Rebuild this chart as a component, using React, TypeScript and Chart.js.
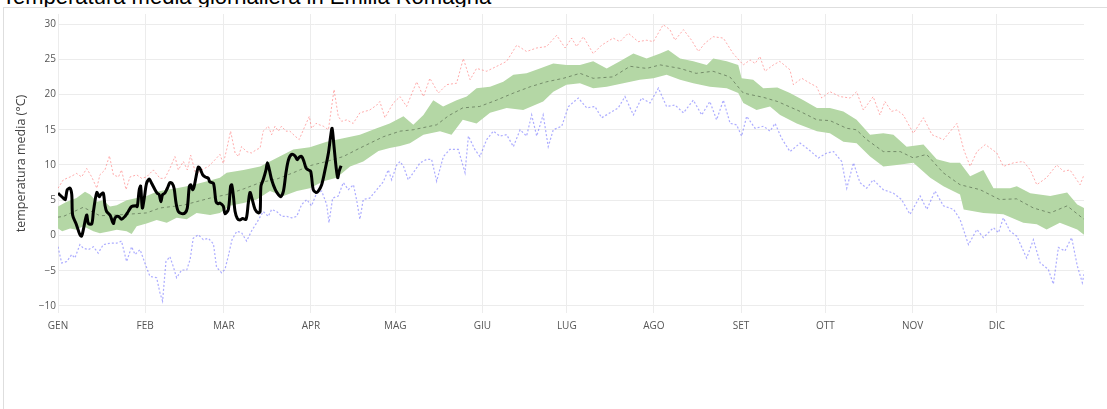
import React, { useEffect, useRef } from "react";
import { Chart, registerables } from "chart.js";

Chart.register(...registerables);

// x = day of year (0 = 1 gennaio), y = °C
const monthStarts = [0, 31, 59, 90, 120, 151, 181, 212, 243, 273, 304, 334];
const monthLabels = ["GEN", "FEB", "MAR", "APR", "MAG", "GIU", "LUG", "AGO", "SET", "OTT", "NOV", "DIC"];
const yTicks = [-10, -5, 0, 5, 10, 15, 20, 25, 30];

const currentYear: [number, number][] = [
  [0, 6.0], [1.9, 5.3], [2.6, 5.1], [3.3, 6.5], [4.3, 6.7], [4.9, 5.8], [5.2, 2.9], [6.4, 1.7], [7.8, 0.1], [8.4, -0.1],
  [9, 0.8], [10.2, 2.9], [10.8, 1.7], [12, 1.65], [12.6, 3.4], [13.8, 6.1], [14.7, 5.5], [15.2, 5.8], [16.1, 6.0], [16.7, 4.3],
  [17.3, 3.4], [18.5, 2.9], [19.7, 1.7], [20.3, 2.5], [21.5, 2.7], [22.6, 2.3], [23.8, 2.7], [25, 3.4], [26.2, 4.1], [27.7, 4.2],
  [28.2, 4.1], [28.9, 6.5], [29.4, 7.0], [30, 3.9], [30.7, 5.3], [31.5, 7.4], [32.5, 8.0], [33.3, 7.4], [34.5, 6.5], [35.3, 6.0],
  [36, 5.8], [36.6, 4.8], [37.2, 5.8], [38, 6.0], [38.9, 6.7], [39.8, 7.5], [40.6, 7.4], [41.3, 6.7], [42, 4.6], [42.8, 3.4],
  [44, 3.1], [45.2, 3.2], [46, 3.9], [46.7, 6.9], [47.2, 7.2], [47.9, 6.5], [48.4, 6.9], [49.1, 8.3], [49.9, 9.7], [50.5, 9.5],
  [51.5, 8.6], [52.4, 8.3], [53.5, 8.1], [54, 7.6], [55.3, 7.4], [56.2, 4.8], [57, 4.5], [57.6, 4.6], [58.8, 4.15], [59.4, 3.1],
  [60.6, 3.7], [61.4, 7.0], [61.8, 7.2], [62.4, 5.6], [63, 3.4], [63.8, 2.4], [64.7, 2.2], [65.7, 2.4], [66.9, 2.3], [67.7, 4.6],
  [68.3, 6.1], [69.1, 5.1], [70.1, 3.7], [71.3, 3.2], [71.9, 3.4], [72.2, 7.0], [73, 7.9], [74, 9.3], [74.5, 10.3], [75.2, 9.3],
  [76, 7.9], [77.3, 6.5], [78.4, 5.8], [79.2, 5.5], [80.2, 6.3], [81.1, 8.9], [82, 10.75], [83.1, 11.5], [84.3, 11.3], [85.1, 10.75],
  [85.8, 11.1], [86.7, 11.2], [87.5, 10.5], [88.2, 9.6], [89, 9.3], [89.9, 9.1], [90.8, 6.5], [91.8, 6.1], [92.6, 6.3], [93.8, 7.2],
  [95, 9.3], [96.2, 11.7], [97, 14.1], [97.5, 15.2], [98.2, 12.6], [98.9, 9.8], [99.5, 8.2], [100, 9.1], [100.7, 9.9],
];

const meanSeries: [number, number][] = [
  [0, 2.6], [1.9, 2.7], [9, 4.0], [14.9, 2.8], [20.9, 2.9], [31.5, 3.2], [36.3, 3.9], [44.6, 4.3], [54.1, 5.3], [60, 5.8],
  [66, 6.6], [71.9, 7.5], [77.8, 8.0], [83.7, 8.9], [89.6, 9.9], [95.6, 10.5], [101.5, 11.2], [107.4, 12.4], [115.7, 14.0],
  [121.7, 14.8], [126.4, 15.0], [134.7, 15.7], [139, 17.0], [144, 18.1], [150, 18.3], [156, 19.2], [162, 20.2], [168, 21.1],
  [173.8, 21.8], [179.8, 22.3], [185.7, 23.0], [190.4, 22.3], [197.5, 22.5], [203.5, 24.0], [209.4, 23.7], [214.2, 24.2],
  [221.3, 23.7], [227, 23.0], [233, 23.3], [239, 22.5], [243.8, 20.2], [250.9, 19.6], [256, 19.0], [264, 17.6], [270, 16.4],
  [274.6, 16.3], [280.6, 15.2], [284, 15.0], [287.7, 13.6], [293.6, 11.9], [299.6, 11.9], [304.3, 11.0], [309, 11.5],
  [314.9, 8.9], [320.9, 7.2], [328, 6.5], [335, 5.1], [341, 5.2], [347, 3.9], [353, 3.2], [359, 4.2], [365, 2.3],
];

const bandUpper: [number, number][] = [
  [0, 4.1], [3.1, 4.8], [6.6, 5.3], [9.6, 6.2], [11.4, 5.8], [13.8, 4.8], [16.1, 5.0], [18.5, 4.1], [20.9, 4.3], [24.4, 5.0],
  [28, 5.3], [31.5, 5.6], [35.1, 6.2], [38.7, 6.5], [42.2, 6.7], [45.8, 7.0], [49.3, 7.3], [54.1, 7.8], [57.6, 8.2], [60, 8.9],
  [66, 9.3], [71.9, 9.8], [77.8, 11.0], [83.7, 12.2], [89.6, 12.5], [95.6, 13.3], [101.5, 13.8], [107.4, 14.3], [113.4, 15.2],
  [118, 15.9], [122.9, 16.9], [126.4, 15.7], [130, 17.1], [133.5, 19.2], [137, 18.3], [141.8, 19.2], [145.4, 19.7], [148.9, 20.9],
  [153.7, 21.1], [158.4, 21.8], [162, 22.8], [166.7, 23.0], [171.4, 23.7], [176.2, 24.4], [180.9, 24.2], [185.7, 24.2],
  [190.4, 24.7], [195.2, 23.7], [199.9, 24.7], [204.7, 25.8], [209.4, 25.1], [214.2, 25.8], [217.1, 26.3], [221.3, 25.1],
  [226, 24.7], [230.8, 24.2], [233.1, 25.1], [237.9, 24.7], [242, 24.2], [243.2, 22.3], [247.3, 22.1], [250.9, 20.9],
  [255.9, 21.0], [260.4, 20.2], [265.2, 19.2], [270, 18.1], [274.6, 18.1], [279.4, 17.6], [284.1, 16.4], [288.9, 14.3],
  [293.6, 14.5], [297.2, 14.3], [301.9, 12.6], [307.9, 12.9], [312.6, 10.8], [317.4, 10.3], [320.9, 10.3], [324.5, 8.4],
  [329.2, 9.3], [332.8, 6.7], [338.7, 6.7], [341.1, 7.0], [345.9, 6.0], [353, 5.6], [359, 6.1], [362.6, 4.4], [365, 3.9],
];

const bandLower: [number, number][] = [
  [0, 1.0], [1.5, 0.6], [4.3, 1.0], [6.6, 0.8], [9, 1.3], [12.6, 0.6], [14.9, 0.3], [18.5, 0.6], [20.9, 0.8], [24.4, 0.6],
  [26.2, 0.2], [28, 1.3], [31.5, 1.7], [35.1, 2.2], [38.7, 1.8], [42.2, 2.5], [45.8, 2.3], [49.3, 3.2], [54.1, 2.9], [57.6, 3.2],
  [61.2, 4.2], [66, 4.6], [70.7, 5.1], [75.4, 6.3], [80.2, 5.6], [85, 6.3], [89.6, 6.7], [94.4, 7.7], [99.1, 8.2], [103.9, 9.8],
  [108.6, 10.5], [114, 12.0], [118, 12.4], [121.7, 12.7], [125.2, 13.1], [130, 14.3], [135.9, 14.8], [140, 14.3], [144, 16.4],
  [148.9, 15.9], [153.7, 17.4], [159.6, 18.1], [165.5, 17.8], [172.6, 19.0], [176.2, 20.4], [180.9, 21.4], [185.7, 21.6],
  [190.4, 20.9], [195.2, 21.1], [201.1, 21.6], [207, 22.1], [211.8, 22.3], [216.5, 22.8], [221.3, 22.1], [226, 21.6],
  [231.9, 21.1], [237.9, 20.9], [242, 20.2], [243.8, 18.8], [248.5, 17.8], [253.3, 18.3], [256.9, 17.1], [262.8, 15.9],
  [270, 14.8], [274.6, 14.5], [279.4, 13.3], [284.1, 13.1], [288.9, 11.2], [293.6, 9.8], [298.4, 10.0], [304.3, 10.3],
  [310.3, 8.2], [315, 7.0], [320.9, 5.8], [322.2, 3.7], [329.2, 3.2], [336.3, 3.0], [343.4, 1.8], [348.2, 1.6], [351.7, 0.85],
  [356.4, 1.8], [362.6, 0.85], [365, 0.1],
];

const recordMax: [number, number][] = [
  [0, 6.7], [1.9, 7.9], [4.3, 8.3], [6.6, 8.8], [8.4, 8.3], [10.2, 9.5], [12, 8.3], [13.8, 6.7], [14.9, 8.6], [16.7, 9.3],
  [18.3, 11.3], [19.7, 8.6], [21.5, 8.3], [22.6, 9.3], [24.2, 6.5], [25.6, 8.3], [28, 8.6], [29.8, 8.1], [31.5, 8.3], [33.9, 9.3],
  [36.3, 8.1], [38, 8.1], [39.8, 9.5], [41.6, 11.2], [42.8, 9.3], [44.6, 10.5], [46, 9.3], [47.2, 11.4], [49.1, 8.6], [51.1, 9.3],
  [53.5, 9.8], [55.3, 10.5], [57.6, 11.5], [58.8, 10.2], [60, 12.2], [61.4, 14.8], [63, 11.7], [64.2, 11.2], [65.3, 12.6],
  [67.1, 11.9], [68.8, 11.7], [70.7, 12.2], [71.9, 12.4], [73, 14.8], [74.8, 15.5], [76, 14.3], [77.2, 15.5], [78.4, 14.8],
  [79.5, 15.5], [81.1, 14.8], [82.5, 14.8], [84.3, 14.1], [85.8, 13.6], [87.3, 15.0], [89.4, 16.9], [90.2, 15.2], [91.8, 15.9],
  [93, 15.7], [94.4, 15.5], [96.2, 15.0], [98.2, 20.7], [99.7, 16.9], [100.9, 16.2], [102.7, 16.4], [105, 15.9], [107.4, 17.4],
  [110.9, 17.8], [113.4, 18.5], [114.5, 19.0], [116.3, 16.7], [119.3, 18.8], [121.7, 19.7], [124, 18.3], [127.6, 21.8],
  [130, 19.7], [132.3, 22.3], [135.3, 20.2], [138.3, 21.4], [141.8, 21.6], [144.2, 25.1], [146.6, 22.1], [148.9, 23.7],
  [152.5, 23.3], [156.1, 24.0], [159.6, 24.7], [163.2, 27.0], [166.7, 26.1], [170.3, 26.6], [173.8, 26.8], [177.4, 28.4],
  [180.4, 26.6], [182.7, 28.0], [184.5, 26.8], [186.9, 28.2], [190.4, 25.8], [193.4, 27.0], [197.5, 28.0], [199.9, 27.5],
  [202.9, 28.7], [206.4, 27.5], [209.4, 27.7], [211.8, 27.5], [215.3, 29.9], [217.7, 29.2], [219.5, 27.7], [222.5, 29.2],
  [225.4, 27.7], [227.8, 26.1], [230.2, 27.3], [233.1, 28.2], [236.7, 28.0], [240.2, 25.8], [243.8, 24.2], [246.2, 24.9],
  [248, 24.4], [249.7, 25.4], [251.5, 23.3], [254.5, 24.2], [256.8, 24.7], [260.4, 23.5], [261.6, 21.4], [264.6, 22.3],
  [267.5, 21.6], [269.9, 21.1], [271.7, 19.5], [274.6, 20.4], [278.2, 19.7], [281.8, 19.5], [284.1, 20.4], [286.5, 17.8],
  [290, 19.7], [292.4, 17.1], [294.2, 19.0], [296.5, 17.6], [298.4, 17.8], [300.7, 17.1], [304.3, 14.5], [307.9, 16.7],
  [310.9, 14.3], [315, 13.6], [319.8, 15.9], [322.2, 12.2], [324.5, 9.8], [326.9, 11.9], [329.9, 12.9], [334, 11.7],
  [336.3, 9.8], [339.9, 10.3], [343.4, 10.5], [345.9, 9.3], [348.2, 7.2], [351.7, 8.2], [355.3, 10.0], [357.7, 9.1],
  [360, 9.3], [363.6, 7.2], [365, 8.6],
];

const recordMin: [number, number][] = [
  [0, -1.6], [1.3, -3.9], [3.1, -3.7], [4.9, -2.7], [6, -3.2], [7.8, -1.3], [9, -1.8], [10.8, -2.0], [12.6, -1.6], [14.3, -2.5],
  [16.1, -1.3], [18.5, -1.1], [20.9, -1.1], [22.6, -0.8], [24.4, -3.7], [26.2, -1.6], [27.4, -2.7], [29.2, -2.0], [30.9, -3.9],
  [32.7, -5.8], [35.1, -6.0], [36.3, -8.2], [37.2, -9.3], [38.4, -3.7], [39.8, -3.0], [41, -4.4], [42.2, -6.0], [44, -4.9],
  [45.8, -4.9], [47, -3.4], [48.1, -0.4], [49.9, 0.1], [51.7, -0.6], [53.5, -0.4], [55.3, -1.2], [56.4, -4.5], [58.2, -5.3],
  [59.4, -4.8], [60.6, -2.9], [61.9, -0.6], [63.6, 0.6], [65.3, 0.4], [67.1, -0.8], [68.8, 0.6], [70.7, 1.8], [73, 3.4],
  [74.8, 2.7], [76, 3.7], [77.8, 3.4], [79.6, 2.7], [81.4, 2.7], [83.1, 2.5], [84.9, 2.7], [86.7, 4.4], [88.5, 5.1], [90.2, 4.2],
  [92, 6.0], [93.8, 6.3], [95.6, 4.4], [96.4, 1.8], [97.7, 5.3], [99.7, 5.6], [101.5, 7.5], [103.3, 6.5], [105.1, 7.2],
  [106.2, 5.1], [107.4, 2.3], [108.6, 5.1], [110.9, 5.3], [113.4, 6.5], [115.7, 7.6], [117.5, 9.3], [118.7, 7.9], [120.5, 10.0],
  [121.7, 10.5], [122.9, 9.8], [124.6, 7.9], [126.4, 8.9], [128.8, 10.3], [131.2, 10.8], [132.9, 10.8], [134.7, 7.7],
  [137.1, 11.2], [139.4, 12.2], [142.4, 12.2], [144.8, 8.9], [146, 14.1], [148.3, 12.2], [150.1, 11.2], [152.5, 13.6],
  [154.9, 14.8], [157.2, 14.1], [159.6, 14.3], [162, 12.6], [164.4, 15.0], [166.7, 14.1], [168.5, 17.1], [170.3, 14.1],
  [172.6, 17.1], [174.4, 12.6], [176.2, 15.0], [179.2, 15.5], [181.6, 18.3], [185.1, 19.5], [188.1, 18.1], [191, 18.3],
  [193.4, 16.7], [196.4, 17.4], [199.3, 18.1], [201.7, 19.7], [204.7, 17.1], [207.6, 19.5], [210.6, 18.8], [213.6, 20.9],
  [216.5, 18.3], [219.5, 18.5], [222.5, 17.4], [226, 19.2], [229, 17.1], [231.9, 19.0], [234.3, 16.4], [236.7, 19.2],
  [239.1, 15.9], [241.4, 15.7], [243.2, 14.1], [245, 16.9], [248, 15.2], [251, 15.5], [253.3, 14.8], [255.1, 15.9],
  [257.4, 13.8], [260.4, 11.9], [264, 13.1], [267, 12.2], [270.5, 11.0], [273.5, 11.7], [275.9, 11.9], [278.8, 10.5],
  [280.6, 6.7], [283, 10.3], [285.3, 7.5], [287.7, 6.7], [290, 7.9], [293.6, 6.5], [297.2, 6.0], [300.1, 5.1], [303.1, 3.0],
  [306.7, 5.6], [309.1, 3.7], [312, 6.3], [315, 4.2], [318.6, 3.7], [320.9, 2.3], [323.9, -1.3], [326.9, 0.85], [329.2, -0.3],
  [332.8, 1.1], [334.6, 0.4], [336.3, 2.5], [338.7, 0.6], [341.1, -0.1], [344.6, -3.2], [347, -0.6], [349.4, -3.9],
  [352.3, -4.8], [354.1, -6.9], [355.9, -1.7], [358.2, -2.2], [360.6, -0.3], [362.6, -4.3], [364.4, -6.7], [365, -5.5],
];

const toXY = (arr: [number, number][]) => arr.map(([x, y]) => ({ x, y }));

const tickFont = { family: "'Open Sans', Verdana, Arial, sans-serif", size: 10 };

export default function App() {
  const canvasRef = useRef<HTMLCanvasElement | null>(null);

  useEffect(() => {
    if (!canvasRef.current) return;
    const chart = new Chart(canvasRef.current, {
      type: "line",
      data: {
        datasets: [
          {
            label: "anno corrente",
            data: toXY(currentYear),
            borderColor: "#000",
            borderWidth: 3,
            pointRadius: 0,
            tension: 0.3,
            fill: false,
          },
          {
            label: "minimo",
            data: toXY(recordMin),
            borderColor: "rgba(90,90,255,0.5)",
            borderWidth: 1.2,
            borderDash: [2, 2],
            pointRadius: 0,
            tension: 0,
            fill: false,
          },
          {
            label: "massimo",
            data: toXY(recordMax),
            borderColor: "rgba(255,90,90,0.5)",
            borderWidth: 1,
            borderDash: [2, 2],
            pointRadius: 0,
            tension: 0,
            fill: false,
          },
          {
            label: "media",
            data: toXY(meanSeries),
            borderColor: "rgba(95,115,85,0.75)",
            borderWidth: 1,
            borderDash: [3, 3],
            pointRadius: 0,
            tension: 0,
            fill: false,
          },
          {
            label: "banda sup",
            data: toXY(bandUpper),
            borderColor: "rgba(0,0,0,0)",
            borderWidth: 0,
            backgroundColor: "rgb(180,215,165)",
            pointRadius: 0,
            tension: 0,
            fill: "+1",
          },
          {
            label: "banda inf",
            data: toXY(bandLower),
            borderColor: "rgba(0,0,0,0)",
            borderWidth: 0,
            pointRadius: 0,
            tension: 0,
            fill: false,
          },
        ],
      },
      options: {
        animation: false,
        responsive: false,
        maintainAspectRatio: false,
        events: [],
        layout: { padding: { left: 0, top: 14, right: 23, bottom: 0 } },
        plugins: {
          legend: { display: false },
          tooltip: { enabled: false },
          title: { display: false },
        },
        scales: {
          x: {
            type: "linear",
            min: 0,
            max: 365,
            grid: { color: "#ececec", drawTicks: false, lineWidth: 1 },
            border: { display: false },
            ticks: {
              font: tickFont,
              color: "#555",
              padding: 7,
              autoSkip: false,
              maxRotation: 0,
              callback: (v: any) => {
                const i = monthStarts.indexOf(Number(v));
                return i >= 0 ? monthLabels[i] : "";
              },
            },
            afterBuildTicks: (scale: any) => {
              scale.ticks = monthStarts.map((v) => ({ value: v }));
            },
            afterFit: (scale: any) => {
              scale.height = 96;
            },
          },
          y: {
            type: "linear",
            min: -11,
            max: 31.42,
            grid: { color: "#ececec", drawTicks: false, lineWidth: 1 },
            border: { display: false },
            ticks: {
              font: tickFont,
              color: "#555",
              padding: 2,
              callback: (v: any) => (Number(v) < 0 ? "\u2212" + Math.abs(Number(v)) : String(v)),
            },
            afterBuildTicks: (scale: any) => {
              scale.ticks = yTicks.map((v) => ({ value: v }));
            },
            afterFit: (scale: any) => {
              scale.width = 58;
            },
            title: {
              display: true,
              text: "temperatura media (°C)",
              color: "#444",
              font: { family: "'Open Sans', Verdana, Arial, sans-serif", size: 12.5 },
              padding: { top: 14, bottom: 0 },
            },
          },
        },
      },
    });
    return () => chart.destroy();
  }, []);

  return (
    <div
      style={{
        position: "absolute",
        left: 0,
        top: 0,
        width: 1107,
        height: 409,
        overflow: "hidden",
        background: "#fff",
      }}
    >
      <div
        style={{
          position: "absolute",
          left: 2,
          top: -16,
          fontFamily: "'Liberation Sans', Arial, sans-serif",
          fontSize: 22,
          color: "#000",
          whiteSpace: "nowrap",
        }}
      >
        Temperatura media giornaliera in Emilia Romagna
      </div>
      <div
        style={{
          position: "absolute",
          left: 3,
          top: 7,
          right: 0,
          bottom: 0,
          borderTop: "1px solid #dedede",
          borderLeft: "1px solid #dedede",
          background: "#fff",
        }}
      />
      <canvas
        ref={canvasRef}
        width={1107}
        height={409}
        style={{ position: "absolute", left: 0, top: 0, width: 1107, height: 409 }}
      />
    </div>
  );
}
